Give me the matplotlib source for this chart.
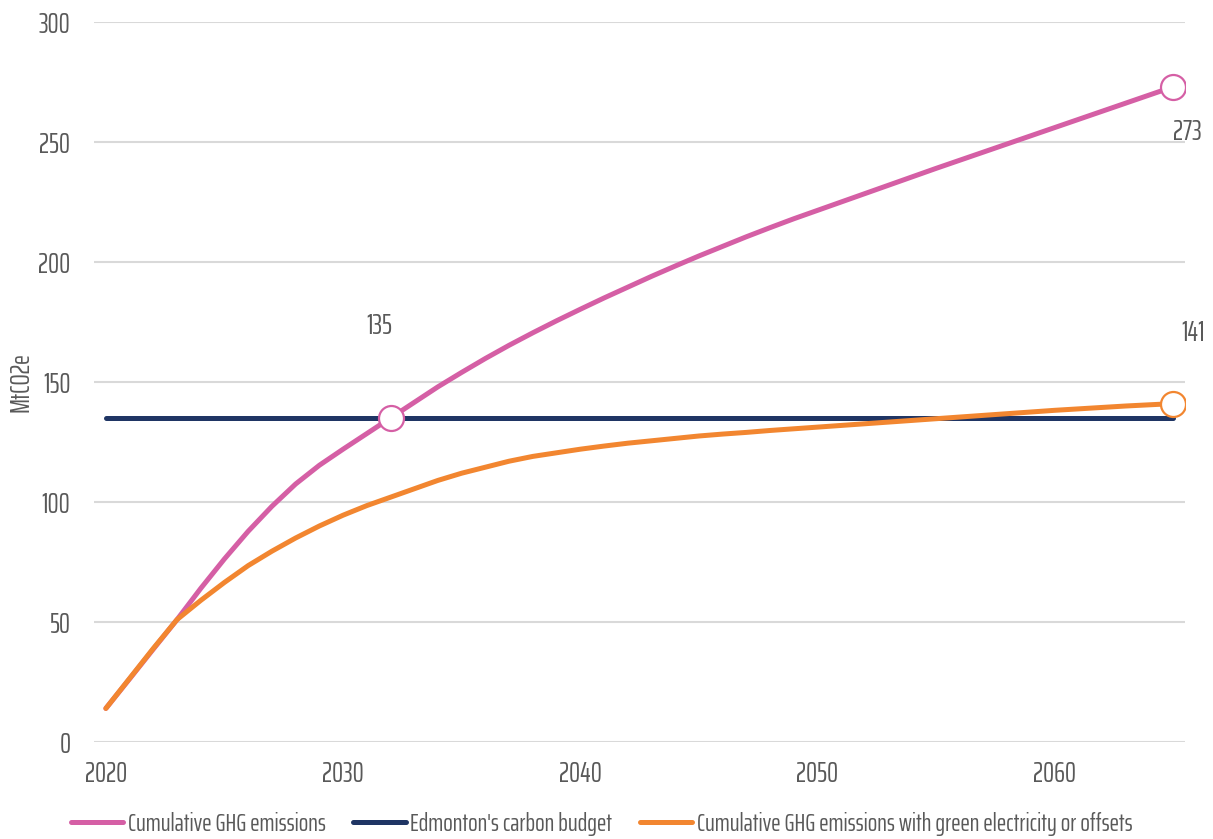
import matplotlib
matplotlib.use("Agg")
import matplotlib.pyplot as plt
from matplotlib import font_manager

years = list(range(2020, 2066))
cumulative = [14, 26.3, 38.7, 51, 64, 76.3, 87.8, 98.2, 107.5, 115.3, 122, 128.5, 135, 141.5, 148,
              154, 159.8, 165.3, 170.5, 175.5, 180.3, 185, 189.5, 194, 198.3, 202.5, 206.5, 210.5,
              214.3, 218, 221.5, 225, 228.5, 232, 235.5, 239, 242.4, 245.8, 249.2, 252.6, 256,
              259.4, 262.8, 266.2, 269.6, 273]
budget = [135] * len(years)
green = [14, 26.5, 39, 51, 59, 66.5, 73.5, 79.5, 85, 90, 94.5, 98.5, 102, 105.5, 109, 112,
         114.5, 117, 119, 120.5, 122, 123.3, 124.5, 125.5, 126.5, 127.5, 128.3, 129, 129.8, 130.5,
         131.2, 131.9, 132.6, 133.3, 134, 134.7, 135.4, 136.1, 136.8, 137.5, 138.2, 138.8, 139.4,
         140, 140.5, 141]
series_names = ["Cumulative GHG emissions", "Edmonton's carbon budget",
                "Cumulative GHG emissions with green electricity or offsets"]
x_ticks = [2020, 2030, 2040, 2050, 2060]
y_ticks = [0, 50, 100, 150, 200, 250, 300]
y_label = "MtCO2e"

names = {f.name for f in font_manager.fontManager.ttflist}
cands = ['Agency FB', 'Saira ExtraCondensed', 'Saira Extra Condensed', 'Pathway Gothic One',
         'Antonio', 'Oswald', 'Open Sans Condensed', 'IBM Plex Sans Condensed']
fam = next((c for c in cands if c in names), 'DejaVu Sans')
plt.rcParams['font.family'] = [fam, 'DejaVu Sans']

PINK = '#D55FA5'
NAVY = '#1F3564'
ORANGE = '#F28630'
GREY = '#595959'
FS = 20
LFS = 18

fig = plt.figure(figsize=(12.13, 8.39), dpi=100)
ax = fig.add_axes([0.0775, 0.1156, 0.8995, 0.8582])

l1, = ax.plot(years, cumulative, color=PINK, lw=3.6, solid_capstyle='round',
              solid_joinstyle='round', zorder=3)
l2, = ax.plot(years, budget, color=NAVY, lw=3.6, solid_capstyle='round', zorder=2)
l3, = ax.plot(years, green, color=ORANGE, lw=3.6, solid_capstyle='round',
              solid_joinstyle='round', zorder=3)

i32 = years.index(2032)
ax.plot([years[i32]], [cumulative[i32]], 'o', ms=18, mfc='white', mec=PINK, mew=1.6, zorder=5)
ax.plot([years[-1]], [cumulative[-1]], 'o', ms=18, mfc='white', mec=PINK, mew=1.6, zorder=5)
ax.plot([years[-1]], [green[-1]], 'o', ms=18, mfc='white', mec=ORANGE, mew=1.6, zorder=5)

ax.annotate(f"{budget[i32]:.0f}", (years[i32], cumulative[i32]), xytext=(-11, 92),
            textcoords='offset pixels', ha='center', va='center', fontsize=FS, color=GREY)
ax.annotate(f"{cumulative[-1]:.0f}", (years[-1], cumulative[-1]), xytext=(14, -45),
            textcoords='offset pixels', ha='center', va='center', fontsize=FS, color=GREY,
            annotation_clip=False)
ax.annotate(f"{green[-1]:.0f}", (years[-1], green[-1]), xytext=(20, 71),
            textcoords='offset pixels', ha='center', va='center', fontsize=FS, color=GREY,
            annotation_clip=False)

ax.set_xlim(2019.5, 2065.5)
ax.set_ylim(0, 300)
ax.set_xticks(x_ticks)
ax.set_yticks(y_ticks)
ax.tick_params(length=0, labelsize=FS, labelcolor=GREY)
ax.tick_params(axis='y', pad=17)
ax.tick_params(axis='x', pad=13)
ax.grid(axis='y', color='#D9D9D9', lw=1.5, zorder=0)
ax.set_axisbelow(True)
for s in ax.spines.values():
    s.set_visible(False)
ax.set_ylabel(y_label, fontsize=19, color=GREY, labelpad=3)

fig.legend([l1, l2, l3], series_names, loc='center', bbox_to_anchor=(0.496, 0.018),
           ncol=3, frameon=False, fontsize=LFS, labelcolor=GREY, handlelength=2.1,
           handletextpad=0.18, columnspacing=1.1, borderaxespad=0)

fig.savefig("out.png", dpi=100)
